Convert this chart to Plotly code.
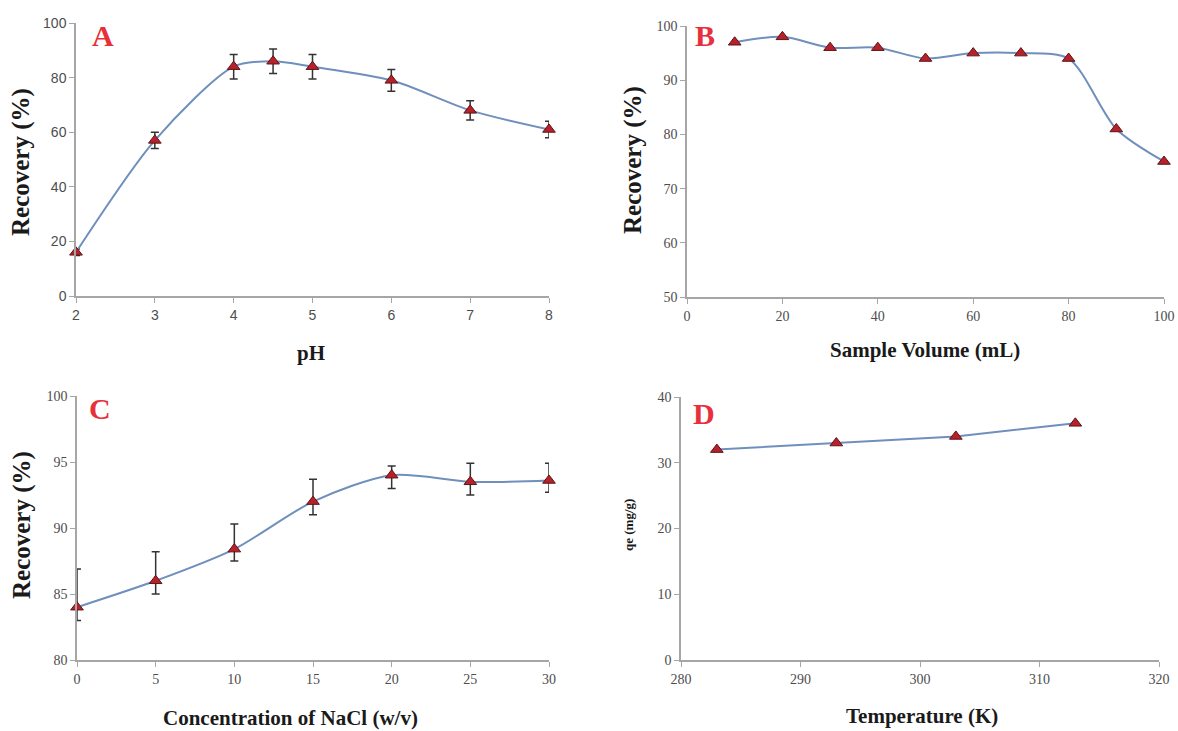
import plotly.graph_objects as go

W, H = 1178, 731

# ---- data ----
ph = [2, 3, 4, 4.5, 5, 6, 7, 8]
rec_ph = [16, 57, 84, 86, 84, 79, 68, 61]
err_ph = [1.2, 3, 4.5, 4.5, 4.5, 4, 3.5, 3]

vol = [10, 20, 30, 40, 50, 60, 70, 80, 90, 100]
rec_vol = [97, 98, 96, 96, 94, 95, 95, 94, 81, 75]

nacl = [0, 5, 10, 15, 20, 25, 30]
rec_nacl = [84, 86, 88.4, 92, 94, 93.5, 93.6]
err_nacl_up = [2.9, 2.2, 1.9, 1.7, 0.7, 1.4, 1.3]
err_nacl_dn = [1.0, 1.0, 0.9, 1.0, 1.0, 1.0, 0.9]

temp = [283, 293, 303, 313]
qe = [32, 33, 34, 36]

# ---- style ----
LINE = "#6f8fbd"
MFILL = "#b8202a"
MLINE = "#5a1518"
RED = "#e8303a"
SERIF = "Liberation Serif, Times New Roman, serif"
SANS = "Liberation Sans, Arial, sans-serif"

def px_x(p):
    return p / W

def px_y(p):
    return 1 - p / H

panels = [
    dict(x=(76, 549), y=(23, 296), xr=[2, 8], yr=[0, 100], xt=[2, 3, 4, 5, 6, 7, 8], dy=20, font=SANS),
    dict(x=(687, 1164), y=(26, 297), xr=[0, 100], yr=[50, 100], xt=[0, 20, 40, 60, 80, 100], dy=10, font=SERIF),
    dict(x=(77, 549), y=(396, 660), xr=[0, 30], yr=[80, 100], xt=[0, 5, 10, 15, 20, 25, 30], dy=5, font=SERIF),
    dict(x=(681, 1159), y=(397, 660), xr=[280, 320], yr=[0, 40], xt=[280, 290, 300, 310, 320], dy=10, font=SERIF),
]

fig = go.Figure()

marker = dict(symbol="triangle-up", size=11, color=MFILL, line=dict(color=MLINE, width=1))
line = dict(color=LINE, width=2, shape="spline", smoothing=0.8)

fig.add_trace(go.Scatter(x=ph, y=rec_ph, mode="lines+markers", line=line, marker=marker,
                         error_y=dict(type="data", array=err_ph, color="#333333", thickness=1.5, width=4),
                         xaxis="x", yaxis="y", cliponaxis=False, showlegend=False))
fig.add_trace(go.Scatter(x=vol, y=rec_vol, mode="lines+markers", line=line, marker=marker,
                         xaxis="x2", yaxis="y2", cliponaxis=False, showlegend=False))
fig.add_trace(go.Scatter(x=nacl, y=rec_nacl, mode="lines+markers", line=line, marker=marker,
                         error_y=dict(type="data", symmetric=False, array=err_nacl_up,
                                      arrayminus=err_nacl_dn, color="#333333", thickness=1.5, width=4),
                         xaxis="x3", yaxis="y3", cliponaxis=False, showlegend=False))
fig.add_trace(go.Scatter(x=temp, y=qe, mode="lines+markers",
                         line=dict(color=LINE, width=2), marker=marker,
                         xaxis="x4", yaxis="y4", cliponaxis=False, showlegend=False))

layout = dict(width=W, height=H, margin=dict(l=0, r=0, t=0, b=0, autoexpand=False),
              paper_bgcolor="white", plot_bgcolor="white")

for i, p in enumerate(panels):
    sfx = "" if i == 0 else str(i + 1)
    common = dict(showline=True, linecolor="#a6a6a6", linewidth=1.5, ticks="outside", ticklen=5,
                  tickcolor="#a6a6a6", showgrid=False, zeroline=False, automargin=False,
                  tickfont=dict(family=p["font"], size=14, color="#4d4d4d"))
    layout["xaxis" + sfx] = dict(domain=[px_x(p["x"][0]), px_x(p["x"][1])], range=p["xr"],
                                 tickvals=p["xt"], anchor="y" + sfx, **common)
    layout["yaxis" + sfx] = dict(domain=[px_y(p["y"][1]), px_y(p["y"][0])], range=p["yr"],
                                 dtick=p["dy"], anchor="x" + sfx, **common)

fig.update_layout(**layout)

def ann(text, x, y, size, color="#1a1a1a", angle=0, family=SERIF, bold=True):
    fig.add_annotation(text=f"<b>{text}</b>" if bold else text, x=px_x(x), y=px_y(y),
                       xref="paper", yref="paper", showarrow=False, textangle=angle,
                       font=dict(family=family, size=size, color=color),
                       xanchor="center", yanchor="middle")

# panel letters
ann("A", 103, 36, 30, RED)
ann("B", 705, 36, 30, RED)
ann("C", 100, 408, 30, RED)
ann("D", 704, 413, 30, RED)

# axis titles
ann("Recovery (%)", 21, 162, 25, angle=-90)
ann("pH", 311, 353, 21)
ann("Recovery (%)", 633, 160, 25, angle=-90)
ann("Sample Volume (mL)", 925, 350, 21)
ann("Recovery (%)", 22, 525, 25, angle=-90)
ann("Concentration of NaCl (w/v)", 290, 718, 21)
ann("qe (mg/g)", 628, 525, 13, angle=-90)
ann("Temperature (K)", 922, 716, 21)

fig.write_html("out.html", config={"displayModeBar": False},
               post_script="document.body.style.margin='0';document.body.style.overflow='hidden';")
